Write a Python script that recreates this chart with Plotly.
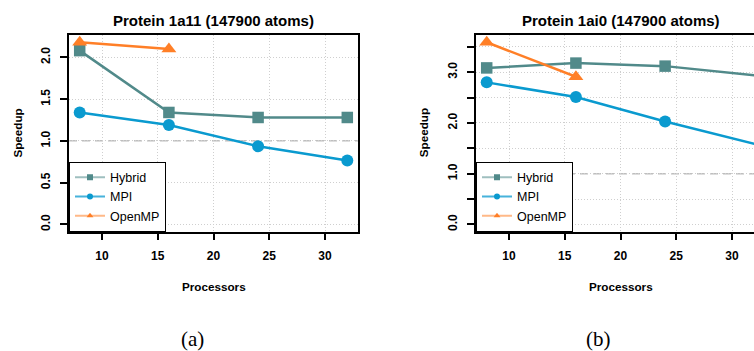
import plotly.graph_objects as go

# ---------------- data ----------------
processors = [8, 16, 24, 32]
processors_omp = [8, 16]

hybrid_1a11 = [2.08, 1.34, 1.28, 1.28]
mpi_1a11 = [1.34, 1.19, 0.935, 0.765]
openmp_1a11 = [2.18, 2.10]

hybrid_1ai0 = [3.085, 3.18, 3.12, 2.94]
mpi_1ai0 = [2.80, 2.51, 2.03, 1.59]
openmp_1ai0 = [3.59, 2.91]

series_names = ["Hybrid", "MPI", "OpenMP"]
titles = ["Protein 1a11 (147900 atoms)", "Protein 1ai0 (147900 atoms)"]
captions = ["(a)", "(b)"]
x_ticks = [10, 15, 20, 25, 30]
y_ticks_a = [0.0, 0.5, 1.0, 1.5, 2.0]
y_tick_text_a = ["0.0", "0.5", "1.0", "1.5", "2.0"]
y_ticks_b = [0.0, 0.5, 1.0, 1.5, 2.0, 2.5, 3.0, 3.5]
y_tick_text_b = ["0.0", "", "1.0", "", "2.0", "", "3.0", ""]

# ---------------- style ----------------
W, H = 754, 351
C_HYB = "#518A8A"
C_MPI = "#0A9ACF"
C_OMP = "#FF7F27"
C_HYB_L = "rgba(81,138,138,0.55)"
C_MPI_L = "rgba(10,154,207,0.75)"
C_OMP_L = "rgba(255,127,39,0.55)"
SANS = "Liberation Sans, Arial, Helvetica, sans-serif"
SERIF = "Liberation Serif, Times New Roman, serif"

def px(x):
    return x / W

def py(y):
    return 1 - y / H

fig = go.Figure()

panels = [
    dict(xa="x", ya="y", legend="legend", hyb=hybrid_1a11, mpi=mpi_1a11, omp=openmp_1a11),
    dict(xa="x2", ya="y2", legend="legend2", hyb=hybrid_1ai0, mpi=mpi_1ai0, omp=openmp_1ai0),
]

for p in panels:
    common = dict(xaxis=p["xa"], yaxis=p["ya"], cliponaxis=False, showlegend=False,
                  mode="lines+markers")
    fig.add_trace(go.Scatter(x=processors, y=p["hyb"], name="Hybrid",
                             line=dict(color=C_HYB, width=2.5),
                             marker=dict(symbol="square", size=11.5, color=C_HYB), **common))
    fig.add_trace(go.Scatter(x=processors, y=p["mpi"], name="MPI",
                             line=dict(color=C_MPI, width=2.5),
                             marker=dict(symbol="circle", size=12, color=C_MPI), **common))
    fig.add_trace(go.Scatter(x=processors_omp, y=p["omp"], name="OpenMP",
                             line=dict(color=C_OMP, width=2.5),
                             marker=dict(symbol="triangle-up", size=13, color=C_OMP), **common))
    # legend entries (small symbols like the reference key)
    for name, col, lcol, sym in zip(series_names, [C_HYB, C_MPI, C_OMP],
                                     [C_HYB_L, C_MPI_L, C_OMP_L],
                                     ["square", "circle", "triangle-up"]):
        fig.add_trace(go.Scatter(x=[None], y=[None], name=name, mode="lines+markers",
                                 xaxis=p["xa"], yaxis=p["ya"], legend=p["legend"],
                                 line=dict(color=lcol, width=2),
                                 marker=dict(symbol=sym, size=6, color=col)))

axis_common = dict(showline=True, linecolor="black", linewidth=1.5,
                   ticks="outside", ticklen=7, tickwidth=1.5, tickcolor="black",
                   showgrid=True, gridcolor="#CFCFCF", griddash="1px,2px", gridwidth=1,
                   zeroline=False,
                   tickfont=dict(family=SANS, size=12, color="black", weight="bold"))

y_dom = [py(231.7), py(35)]

fig.update_layout(
    xaxis=dict(domain=[px(69), px(358)], range=[7.04, 32.96], tickvals=x_ticks,
               mirror=True, anchor="y", ticklabelstandoff=5, **axis_common),
    yaxis=dict(domain=y_dom, range=[-0.0872, 2.2672], tickvals=y_ticks_a,
               ticktext=y_tick_text_a, tickangle=-90, mirror=True, anchor="x",
               ticklabelstandoff=5, **axis_common),
    xaxis2=dict(domain=[px(476), 1.0], range=[7.04, 31.97], tickvals=x_ticks,
                mirror=True, anchor="y2", ticklabelstandoff=5, **axis_common),
    yaxis2=dict(domain=y_dom, range=[-0.1436, 3.7336], tickvals=y_ticks_b,
                ticktext=y_tick_text_b, tickangle=-90, mirror=False, anchor="x2",
                ticklabelstandoff=5, **axis_common),
    legend=dict(x=px(69), y=py(231.7), xanchor="left", yanchor="bottom",
                bgcolor="white", bordercolor="black", borderwidth=1,
                font=dict(family=SANS, size=12.5, color="black"), tracegroupgap=0),
    legend2=dict(x=px(476), y=py(231.7), xanchor="left", yanchor="bottom",
                 bgcolor="white", bordercolor="black", borderwidth=1,
                 font=dict(family=SANS, size=12.5, color="black"), tracegroupgap=0),
    width=W, height=H, autosize=False,
    margin=dict(l=0, r=0, t=0, b=0),
    paper_bgcolor="white", plot_bgcolor="white",
    template="none",
)

# reference line at speedup = 1
for xr, yr in [("x domain", "y"), ("x2 domain", "y2")]:
    fig.add_shape(type="line", xref=xr, yref=yr, x0=0, x1=1, y0=1, y1=1,
                  line=dict(color="#BEBEBE", width=1.5, dash="8px,5px"), layer="below")

# text
ann = []
for title, cx, sx in zip(titles, [213.5, 620.5], [17.3, 423]):
    ann.append(dict(text="<b>" + title + "</b>", x=px(cx), y=py(20.5),
                    font=dict(family=SANS, size=15, color="black")))
    ann.append(dict(text="<b>Processors</b>", x=px(cx), y=py(286.7),
                    font=dict(family=SANS, size=11.7, color="black")))
    ann.append(dict(text="<b>Speedup</b>", x=px(sx), y=py(133.3), textangle=-90,
                    font=dict(family=SANS, size=11.7, color="black")))
for cap, cx in zip(captions, [192, 598.7]):
    ann.append(dict(text=cap, x=px(cx), y=py(338.5),
                    font=dict(family=SERIF, size=21, color="black")))
for a in ann:
    a.update(xref="paper", yref="paper", xanchor="center", yanchor="middle", showarrow=False)
fig.update_layout(annotations=ann)

fig.write_html("out.html", config={"displayModeBar": False},
               post_script="document.body.style.margin='0px';document.body.style.overflow='hidden';")
